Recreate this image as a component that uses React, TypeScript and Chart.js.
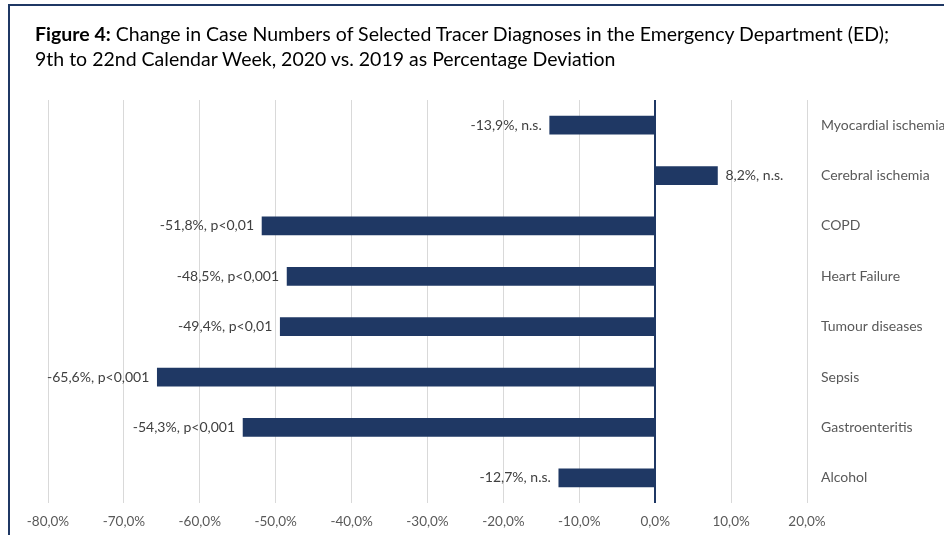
import React, { useEffect, useRef } from "react";
import { Chart, registerables } from "chart.js";

Chart.register(...registerables);

const categories = [
  "Myocardial ischemia",
  "Cerebral ischemia",
  "COPD",
  "Heart Failure",
  "Tumour diseases",
  "Sepsis",
  "Gastroenteritis",
  "Alcohol",
];
const changePct = [-13.9, 8.2, -51.8, -48.5, -49.4, -65.6, -54.3, -12.7];
const significance = ["n.s.", "n.s.", "p<0,01", "p<0,001", "p<0,01", "p<0,001", "p<0,001", "n.s."];
const xTicks = [-80, -70, -60, -50, -40, -30, -20, -10, 0, 10, 20];

const NAVY = "#1F3864";
const FONT = "Lato, 'Noto Sans', sans-serif";

const fmt = (v: number) => v.toFixed(1).replace(".", ",") + "%";

const barLabelPlugin = {
  id: "barLabels",
  afterDatasetsDraw(chart: any) {
    const ctx = chart.ctx;
    const meta = chart.getDatasetMeta(0);
    ctx.save();
    ctx.font = `14px ${FONT}`;
    ctx.fillStyle = "#404040";
    ctx.textBaseline = "middle";
    meta.data.forEach((bar: any, i: number) => {
      const v = changePct[i];
      const text = `${fmt(v)}, ${significance[i]}`;
      if (v < 0) {
        ctx.textAlign = "right";
        ctx.fillText(text, bar.x - 8, bar.y);
      } else {
        ctx.textAlign = "left";
        ctx.fillText(text, bar.x + 8, bar.y);
      }
    });
    ctx.restore();
  },
};

export default function App() {
  const ref = useRef<HTMLCanvasElement>(null);
  useEffect(() => {
    if (!ref.current) return;
    const chart = new Chart(ref.current, {
      type: "bar",
      data: {
        labels: categories,
        datasets: [
          {
            data: changePct,
            backgroundColor: NAVY,
            borderWidth: 0,
            barThickness: 18,
          },
        ],
      },
      options: {
        indexAxis: "y",
        responsive: false,
        animation: false,
        layout: { padding: { left: 48, top: 100, right: 0, bottom: 0 } },
        plugins: { legend: { display: false }, tooltip: { enabled: false }, title: { display: false } },
        scales: {
          x: {
            type: "linear",
            min: -80,
            max: 20,
            afterBuildTicks: (scale: any) => {
              scale.ticks = xTicks.map((v) => ({ value: v }));
            },
            afterFit: (scale: any) => {
              scale.height = 32;
            },
            ticks: {
              padding: 11,
              color: "#595959",
              font: { family: FONT, size: 13.5 },
              callback: (v: any) => fmt(Number(v)),
            },
            grid: {
              drawTicks: false,
              color: (c: any) => (c.tick && c.tick.value === 0 ? NAVY : "#D9D9D9"),
              lineWidth: (c: any) => (c.tick && c.tick.value === 0 ? 2 : 1),
            },
            border: { display: false },
          },
          y: {
            position: "right",
            afterFit: (scale: any) => {
              scale.width = 137;
            },
            ticks: {
              padding: 14,
              color: "#595959",
              font: { family: FONT, size: 14 },
            },
            grid: { display: false, drawTicks: false },
            border: { display: false },
          },
        },
      },
      plugins: [barLabelPlugin],
    });
    return () => chart.destroy();
  }, []);

  return (
    <div
      style={{
        position: "absolute",
        left: 0,
        top: 0,
        width: 944,
        height: 535,
        overflow: "hidden",
        background: "#fff",
      }}
    >
      <div
        style={{
          position: "absolute",
          left: 8,
          top: 4,
          width: 940,
          height: 540,
          borderLeft: `2px solid ${NAVY}`,
          borderTop: `2px solid ${NAVY}`,
        }}
      />
      <canvas
        ref={ref}
        width={944}
        height={535}
        style={{ position: "absolute", left: 0, top: 0, width: 944, height: 535 }}
      />
      <div
        style={{
          position: "absolute",
          left: 35,
          top: 21,
          fontFamily: FONT,
          fontSize: 19.5,
          lineHeight: "25px",
          color: "#000",
          whiteSpace: "nowrap",
        }}
      >
        <b>Figure 4:</b> Change in Case Numbers of Selected Tracer Diagnoses in the Emergency Department (ED);
        <br />
        9th to 22nd Calendar Week, 2020 vs. 2019 as Percentage Deviation
      </div>
    </div>
  );
}
